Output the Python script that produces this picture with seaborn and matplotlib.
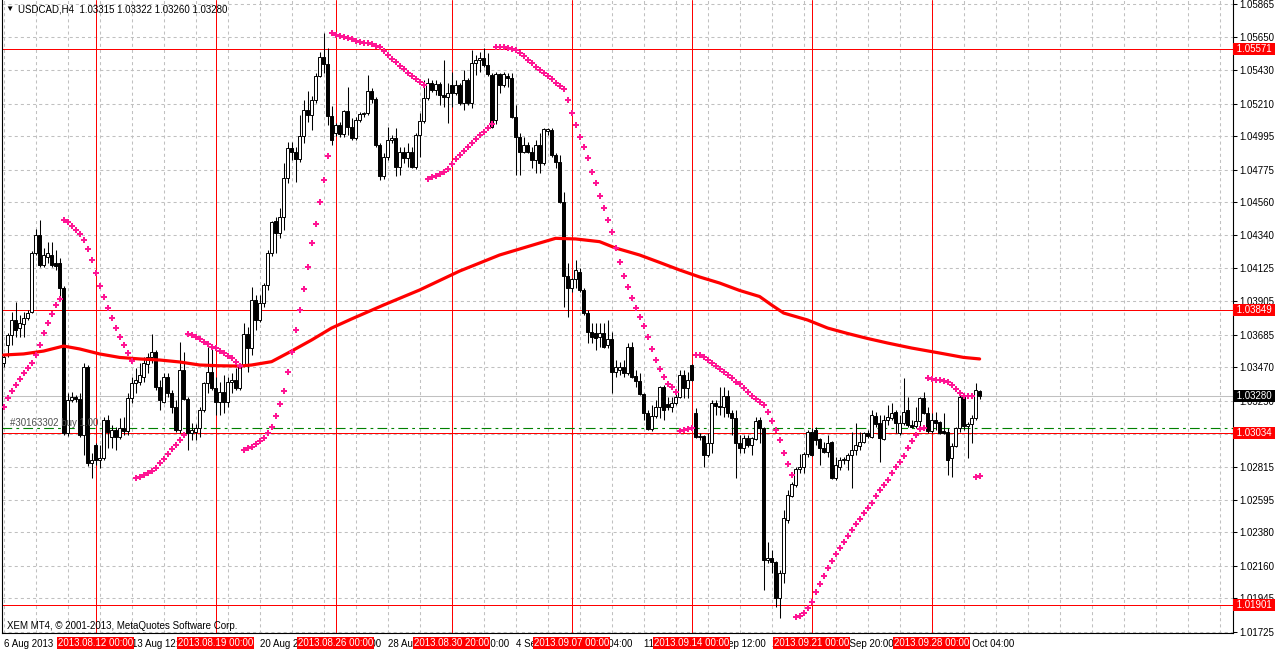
import numpy as np
import matplotlib
matplotlib.use("Agg")
import matplotlib.pyplot as plt
import matplotlib.transforms as mtransforms
import seaborn as sns

# ---------------- data (USDCAD H4) ----------------
opens = [
    1.03498, 1.03617, 1.03683, 1.03782, 1.03729, 1.03756, 1.03795, 1.03835, 1.04224, 1.04343,
    1.04145, 1.04198, 1.04211, 1.04158, 1.04158, 1.03993, 1.03036, 1.03254, 1.03274, 1.03261,
    1.03023, 1.03472, 1.02838, 1.02957, 1.02858, 1.02871, 1.03122, 1.03010, 1.03056, 1.03010,
    1.03069, 1.03049, 1.03267, 1.03366, 1.03373, 1.03406, 1.03492, 1.03538, 1.03571, 1.03340,
    1.03241, 1.03406, 1.03300, 1.03208, 1.03056, 1.03452, 1.03261, 1.03036, 1.03043, 1.03069,
    1.03188, 1.03366, 1.03439, 1.03333, 1.03241, 1.03307, 1.03241, 1.03373, 1.03386, 1.03333,
    1.03485, 1.03690, 1.03597, 1.03914, 1.03782, 1.03894, 1.04013, 1.04224, 1.04435, 1.04356,
    1.04462, 1.04719, 1.04917, 1.04891, 1.04845, 1.04996, 1.05168, 1.05135, 1.05234, 1.05392,
    1.05518, 1.05472, 1.05128, 1.05016, 1.05069, 1.05010, 1.05161, 1.05056, 1.04983, 1.05102,
    1.05142, 1.05148, 1.05293, 1.05241, 1.04937, 1.04732, 1.04858, 1.04970, 1.04983, 1.04792,
    1.04891, 1.04851, 1.04891, 1.04792, 1.05003, 1.05095, 1.05247, 1.05346, 1.05300, 1.05340,
    1.05267, 1.05254, 1.05333, 1.05280, 1.05333, 1.05214, 1.05366, 1.05214, 1.05478, 1.05498,
    1.05511, 1.05465, 1.05399, 1.05102, 1.05406, 1.05333, 1.05392, 1.05379, 1.05122, 1.04990,
    1.04891, 1.04937, 1.04891, 1.04838, 1.04937, 1.04818, 1.05029, 1.05036, 1.04871, 1.04825,
    1.04561, 1.04072, 1.03993, 1.04053, 1.04099, 1.03980, 1.03828, 1.03703, 1.03696, 1.03670,
    1.03696, 1.03617, 1.03657, 1.03439, 1.03452, 1.03472, 1.03432, 1.03604, 1.03412, 1.03379,
    1.03294, 1.03168, 1.03063, 1.03148, 1.03208, 1.03340, 1.03228, 1.03208, 1.03234, 1.03274,
    1.03419, 1.03333, 1.03485, 1.03168, 1.03010, 1.03016, 1.02891, 1.02970, 1.03234, 1.03214,
    1.03208, 1.03280, 1.03168, 1.03135, 1.02970, 1.02937, 1.03003, 1.02957, 1.02997, 1.03122,
    1.03069, 1.02198, 1.02211, 1.02185, 1.01947, 1.02112, 1.02462, 1.02620, 1.02693, 1.02799,
    1.02812, 1.02898, 1.03043, 1.03056, 1.02997, 1.02937, 1.02911, 1.02977, 1.02739, 1.02812,
    1.02858, 1.02858, 1.02891, 1.02924, 1.02950, 1.02977, 1.03036, 1.03010, 1.03148, 1.03102,
    1.02997, 1.03122, 1.03135, 1.03175, 1.03036, 1.03102, 1.03188, 1.03089, 1.03082, 1.03115,
    1.03267, 1.03168, 1.03049, 1.03122, 1.03109, 1.03049, 1.03043, 1.02871, 1.02950, 1.03069,
    1.03274, 1.03082, 1.03096, 1.03135, 1.03315,
]
highs = [
    1.03551, 1.03696, 1.03835, 1.03901, 1.03815, 1.03835, 1.03848, 1.04237, 1.04383, 1.04442,
    1.04257, 1.04297, 1.04297, 1.04244, 1.04191, 1.04006, 1.03300, 1.03307, 1.03287, 1.03300,
    1.03498, 1.03485, 1.02904, 1.02970, 1.02957, 1.03142, 1.03155, 1.03089, 1.03076, 1.03135,
    1.03142, 1.03300, 1.03406, 1.03465, 1.03498, 1.03538, 1.03564, 1.03690, 1.03584, 1.03386,
    1.03432, 1.03432, 1.03320, 1.03254, 1.03637, 1.03571, 1.03274, 1.03102, 1.03096, 1.03208,
    1.03373, 1.03604, 1.03597, 1.03406, 1.03373, 1.03419, 1.03406, 1.03432, 1.03465, 1.03498,
    1.03762, 1.03736, 1.04000, 1.03947, 1.03947, 1.04026, 1.04244, 1.04435, 1.04462, 1.04521,
    1.04818, 1.04957, 1.04957, 1.04924, 1.05135, 1.05234, 1.05293, 1.05260, 1.05412, 1.05551,
    1.05676, 1.05577, 1.05194, 1.05082, 1.05089, 1.05168, 1.05320, 1.05115, 1.05122, 1.05155,
    1.05155, 1.05399, 1.05313, 1.05254, 1.04950, 1.04884, 1.05056, 1.05003, 1.05049, 1.04924,
    1.04924, 1.04950, 1.04924, 1.05016, 1.05148, 1.05366, 1.05379, 1.05366, 1.05366, 1.05353,
    1.05498, 1.05346, 1.05419, 1.05366, 1.05346, 1.05432, 1.05379, 1.05564, 1.05531, 1.05551,
    1.05577, 1.05544, 1.05412, 1.05419, 1.05412, 1.05419, 1.05412, 1.05412, 1.05201, 1.05016,
    1.04990, 1.04957, 1.04924, 1.04970, 1.05016, 1.05049, 1.05049, 1.05049, 1.04884, 1.04871,
    1.04627, 1.04158, 1.04059, 1.04178, 1.04125, 1.03993, 1.03848, 1.03762, 1.03762, 1.03762,
    1.03762, 1.03782, 1.03703, 1.03518, 1.03505, 1.03518, 1.03630, 1.03637, 1.03452, 1.03432,
    1.03300, 1.03188, 1.03221, 1.03254, 1.03346, 1.03353, 1.03274, 1.03274, 1.03320, 1.03452,
    1.03452, 1.03439, 1.03492, 1.03201, 1.03036, 1.03023, 1.03036, 1.03254, 1.03254, 1.03340,
    1.03340, 1.03320, 1.03188, 1.03188, 1.03023, 1.03023, 1.03023, 1.03010, 1.03142, 1.03142,
    1.03076, 1.02317, 1.02264, 1.02191, 1.02132, 1.02528, 1.02660, 1.02713, 1.02812, 1.02898,
    1.02911, 1.03056, 1.03069, 1.03076, 1.03003, 1.02977, 1.03023, 1.02983, 1.02878, 1.02878,
    1.02878, 1.02904, 1.03043, 1.03102, 1.03043, 1.03043, 1.03056, 1.03188, 1.03175, 1.03155,
    1.03155, 1.03221, 1.03234, 1.03188, 1.03155, 1.03399, 1.03274, 1.03122, 1.03208, 1.03274,
    1.03307, 1.03208, 1.03168, 1.03175, 1.03115, 1.03168, 1.03069, 1.02970, 1.03076, 1.03287,
    1.03280, 1.03109, 1.03155, 1.03366, 1.03322,
]
lows = [
    1.03472, 1.03538, 1.03617, 1.03670, 1.03670, 1.03670, 1.03782, 1.03828, 1.04211, 1.04132,
    1.04132, 1.04158, 1.04132, 1.04112, 1.03914, 1.03023, 1.03016, 1.03241, 1.03241, 1.03010,
    1.02891, 1.02818, 1.02739, 1.02825, 1.02805, 1.02858, 1.02937, 1.02937, 1.02924, 1.02997,
    1.03023, 1.03023, 1.03234, 1.03300, 1.03353, 1.03373, 1.03432, 1.03498, 1.03320, 1.03188,
    1.03234, 1.03274, 1.03168, 1.03043, 1.03036, 1.03254, 1.02924, 1.02990, 1.02990, 1.03010,
    1.03175, 1.03300, 1.03320, 1.03155, 1.03155, 1.03168, 1.03208, 1.03300, 1.03320, 1.03320,
    1.03472, 1.03439, 1.03551, 1.03716, 1.03769, 1.03868, 1.03980, 1.04204, 1.04224, 1.04323,
    1.04376, 1.04686, 1.04838, 1.04693, 1.04825, 1.04950, 1.05089, 1.05036, 1.05214, 1.05386,
    1.05412, 1.05069, 1.04937, 1.04996, 1.04990, 1.04990, 1.05003, 1.04970, 1.04970, 1.05089,
    1.05122, 1.05135, 1.05214, 1.04924, 1.04706, 1.04713, 1.04838, 1.04950, 1.04732, 1.04739,
    1.04818, 1.04792, 1.04785, 1.04779, 1.04858, 1.05082, 1.05234, 1.05287, 1.05267, 1.05201,
    1.05188, 1.05082, 1.05188, 1.05267, 1.05201, 1.05168, 1.05201, 1.05181, 1.05399, 1.05419,
    1.05452, 1.05392, 1.05049, 1.05076, 1.05280, 1.05320, 1.05320, 1.05115, 1.04739, 1.04739,
    1.04884, 1.04884, 1.04785, 1.04752, 1.04752, 1.04805, 1.05003, 1.04858, 1.04785, 1.04554,
    1.03868, 1.03802, 1.03967, 1.03993, 1.03967, 1.03815, 1.03630, 1.03630, 1.03584, 1.03604,
    1.03597, 1.03597, 1.03300, 1.03406, 1.03419, 1.03406, 1.03419, 1.03399, 1.03340, 1.03287,
    1.03122, 1.03056, 1.03049, 1.03135, 1.03135, 1.03122, 1.03188, 1.03175, 1.03221, 1.03267,
    1.03267, 1.03267, 1.03379, 1.03003, 1.02990, 1.02812, 1.02878, 1.02904, 1.03155, 1.03155,
    1.03142, 1.03142, 1.03023, 1.02739, 1.02904, 1.02904, 1.02944, 1.02891, 1.02990, 1.02970,
    1.02000, 1.02178, 1.02112, 1.01888, 1.01815, 1.02046, 1.02442, 1.02614, 1.02680, 1.02772,
    1.02772, 1.02878, 1.02884, 1.02957, 1.02825, 1.02904, 1.02878, 1.02733, 1.02726, 1.02792,
    1.02832, 1.02792, 1.02673, 1.02891, 1.02924, 1.02970, 1.03003, 1.03003, 1.03076, 1.02845,
    1.02990, 1.03089, 1.03122, 1.03036, 1.03023, 1.03089, 1.03076, 1.03069, 1.03069, 1.03056,
    1.03162, 1.03036, 1.03036, 1.03056, 1.03030, 1.03030, 1.02759, 1.02746, 1.02944, 1.03043,
    1.03056, 1.02871, 1.02970, 1.03122, 1.03260,
]
closes = [
    1.03538, 1.03683, 1.03782, 1.03716, 1.03762, 1.03795, 1.03828, 1.04224, 1.04343, 1.04145,
    1.04211, 1.04224, 1.04145, 1.04138, 1.03993, 1.03036, 1.03254, 1.03274, 1.03261, 1.03023,
    1.03472, 1.02838, 1.02858, 1.02858, 1.02871, 1.03122, 1.03043, 1.03056, 1.03010, 1.03069,
    1.03049, 1.03267, 1.03366, 1.03386, 1.03419, 1.03498, 1.03538, 1.03571, 1.03340, 1.03254,
    1.03406, 1.03300, 1.03208, 1.03056, 1.03452, 1.03261, 1.03036, 1.03056, 1.03069, 1.03188,
    1.03366, 1.03439, 1.03333, 1.03241, 1.03307, 1.03241, 1.03373, 1.03386, 1.03333, 1.03485,
    1.03690, 1.03597, 1.03914, 1.03782, 1.03894, 1.04013, 1.04224, 1.04429, 1.04356, 1.04462,
    1.04719, 1.04917, 1.04891, 1.04845, 1.04996, 1.05168, 1.05135, 1.05234, 1.05392, 1.05518,
    1.05472, 1.05128, 1.04970, 1.05069, 1.05010, 1.05161, 1.05056, 1.04983, 1.05102, 1.05142,
    1.05148, 1.05293, 1.05241, 1.04937, 1.04732, 1.04858, 1.04970, 1.04983, 1.04792, 1.04891,
    1.04851, 1.04891, 1.04792, 1.05003, 1.05095, 1.05247, 1.05346, 1.05300, 1.05340, 1.05267,
    1.05254, 1.05280, 1.05280, 1.05333, 1.05214, 1.05366, 1.05214, 1.05478, 1.05498, 1.05511,
    1.05465, 1.05406, 1.05056, 1.05406, 1.05333, 1.05406, 1.05379, 1.05122, 1.04990, 1.04891,
    1.04937, 1.04891, 1.04838, 1.04937, 1.04818, 1.05043, 1.05043, 1.04871, 1.04825, 1.04561,
    1.04072, 1.03993, 1.04053, 1.04112, 1.03980, 1.03828, 1.03703, 1.03670, 1.03663, 1.03696,
    1.03604, 1.03657, 1.03439, 1.03472, 1.03472, 1.03432, 1.03604, 1.03406, 1.03379, 1.03294,
    1.03168, 1.03063, 1.03148, 1.03208, 1.03340, 1.03188, 1.03208, 1.03234, 1.03274, 1.03419,
    1.03333, 1.03386, 1.03386, 1.03010, 1.03016, 1.02891, 1.02970, 1.03234, 1.03214, 1.03208,
    1.03280, 1.03168, 1.03135, 1.02970, 1.02937, 1.03003, 1.02957, 1.03003, 1.03115, 1.03069,
    1.02198, 1.02211, 1.02185, 1.01947, 1.02112, 1.02475, 1.02627, 1.02700, 1.02799, 1.02812,
    1.02898, 1.03043, 1.02891, 1.02990, 1.02937, 1.02911, 1.02970, 1.02739, 1.02825, 1.02858,
    1.02865, 1.02891, 1.02924, 1.02957, 1.02977, 1.03036, 1.03016, 1.03155, 1.03096, 1.03003,
    1.03122, 1.03142, 1.03168, 1.03102, 1.03102, 1.03175, 1.03089, 1.03076, 1.03115, 1.03267,
    1.03168, 1.03049, 1.03122, 1.03102, 1.03036, 1.03036, 1.02858, 1.02950, 1.03069, 1.03274,
    1.03082, 1.03096, 1.03135, 1.03320, 1.03280,
]
# Parabolic SAR dots
sar = [
    1.03210, 1.03265, 1.03315, 1.03353, 1.03391, 1.03430, 1.03463, 1.03496, 1.03551, 1.03615,
    1.03694, 1.03760, 1.03820, 1.03879, 1.03923, 1.04442, 1.04429, 1.04402, 1.04376, 1.04348,
    1.04308, 1.04249, 1.04176, 1.04090, 1.04004, 1.03932, 1.03859, 1.03793, 1.03729, 1.03670,
    1.03615, 1.03562, 1.03511, 1.02739, 1.02748, 1.02757, 1.02770, 1.02787, 1.02803, 1.02836,
    1.02863, 1.02896, 1.02929, 1.02957, 1.02990, 1.03021, 1.03690, 1.03683, 1.03672, 1.03657,
    1.03639, 1.03624, 1.03606, 1.03595, 1.03579, 1.03562, 1.03544, 1.03529, 1.03507, 1.03480,
    1.02924, 1.02935, 1.02946, 1.02964, 1.02985, 1.03005, 1.03036, 1.03078, 1.03148, 1.03228,
    1.03315, 1.03437, 1.03573, 1.03716, 1.03848, 1.03985, 1.04135, 1.04288, 1.04414, 1.04558,
    1.04706, 1.04864, 1.05674, 1.05663, 1.05656, 1.05648, 1.05641, 1.05635, 1.05625, 1.05619,
    1.05612, 1.05608, 1.05602, 1.05592, 1.05582, 1.05557, 1.05531, 1.05503, 1.05483, 1.05458,
    1.05437, 1.05414, 1.05392, 1.05371, 1.05353, 1.05331, 1.04711, 1.04724, 1.04734, 1.04746,
    1.04761, 1.04779, 1.04810, 1.04845, 1.04871, 1.04897, 1.04924, 1.04950, 1.04977, 1.05003,
    1.05023, 1.05049, 1.05076, 1.05582, 1.05586, 1.05582, 1.05575, 1.05569, 1.05564, 1.05542,
    1.05524, 1.05498, 1.05476, 1.05450, 1.05432, 1.05410, 1.05392, 1.05371, 1.05348, 1.05328,
    1.05305, 1.05234, 1.05146, 1.05067, 1.04988, 1.04922, 1.04849, 1.04761, 1.04684, 1.04598,
    1.04519, 1.04442, 1.04361, 1.04255, 1.04163, 1.04072, 1.04000, 1.03927, 1.03859, 1.03805,
    1.03742, 1.03667, 1.03589, 1.03517, 1.03457, 1.03404, 1.03358, 1.03342, 1.03305, 1.03049,
    1.03059, 1.03063, 1.03069, 1.03551, 1.03550, 1.03536, 1.03517, 1.03496, 1.03477, 1.03457,
    1.03437, 1.03419, 1.03397, 1.03375, 1.03358, 1.03331, 1.03305, 1.03280, 1.03261, 1.03239,
    1.03219, 1.03173, 1.03113, 1.03056, 1.02990, 1.02902, 1.02830, 1.02757, 1.01820, 1.01830,
    1.01846, 1.01879, 1.01923, 1.01985, 1.02038, 1.02090, 1.02143, 1.02191, 1.02236, 1.02275,
    1.02315, 1.02354, 1.02396, 1.02434, 1.02469, 1.02506, 1.02539, 1.02572, 1.02622, 1.02658,
    1.02691, 1.02724, 1.02770, 1.02812, 1.02843, 1.02882, 1.02935, 1.02983, 1.03023, 1.03061,
    1.03071, 1.03397, 1.03393, 1.03386, 1.03384, 1.03379, 1.03375, 1.03353, 1.03325, 1.03302,
    1.03280, 1.03278, 1.03278, 1.02748, 1.02752,
]
# moving average (read at sample bars)
ma_idx = [0, 5, 10, 15, 19, 24, 29, 34, 39, 44, 49, 54, 59, 62, 67, 72, 77, 82, 87, 95,
          104, 114, 124, 134, 138, 143, 149, 153, 159, 164, 169, 174, 179, 184, 189, 192,
          195, 201, 206, 211, 216, 221, 227, 234, 240, 244]
ma_vals = [1.03551, 1.03558, 1.03577, 1.03610, 1.03591, 1.03558, 1.03535, 1.03525, 1.03518,
           1.03505, 1.03485, 1.03480, 1.03478, 1.03485, 1.03507, 1.03577, 1.03650, 1.03729,
           1.03789, 1.03881, 1.03980, 1.04105, 1.04211, 1.04290, 1.04321, 1.04317, 1.04299,
           1.04257, 1.04211, 1.04162, 1.04112, 1.04066, 1.04026, 1.03977, 1.03937, 1.03881,
           1.03828, 1.03782, 1.03729, 1.03693, 1.03660, 1.03630, 1.03597, 1.03564, 1.03535,
           1.03525]

price_ticks = [1.05865, 1.05650, 1.05430, 1.05210, 1.04995, 1.04775, 1.04560, 1.04340,
               1.04125, 1.03905, 1.03685, 1.03470, 1.03250, 1.03030, 1.02815, 1.02595,
               1.02380, 1.02160, 1.01945, 1.01725]
time_tick_idx = list(range(0, 241, 16))
time_tick_labels = ["6 Aug 2013", "8 Aug 20:00", "13 Aug 12:00", "16 Aug 04:00",
                    "20 Aug 20:00", "23 Aug 12:00", "28 Aug 04:00", "30 Aug 20:00",
                    "4 Sep 12:00", "9 Sep 04:00", "11 Sep 20:00", "16 Sep 12:00",
                    "19 Sep 04:00", "23 Sep 20:00", "26 Sep 12:00", "1 Oct 04:00"]
vline_idx = [23, 53, 83, 112, 142, 172, 202, 232]
vline_labels = ["2013.08.12 00:00", "2013.08.19 00:00", "2013.08.26 00:00",
                "2013.08.30 20:00", "2013.09.07 00:00", "2013.09.14 00:00",
                "2013.09.21 00:00", "2013.09.28 00:00"]
hline_prices = [1.05571, 1.03849, 1.03034, 1.01901]
order_price = 1.03067
bid_price = 1.03280

# ---------------- drawing ----------------
sns.set_style("white")
plt.rcParams['font.family'] = ['Liberation Sans', 'DejaVu Sans']
plt.rcParams['lines.scale_dashes'] = False

n = min(len(opens), len(highs), len(lows), len(closes), len(sar))
o = np.array(opens[:n]); h = np.array(highs[:n]); l = np.array(lows[:n]); c = np.array(closes[:n])
idx = np.arange(n)

fig = plt.figure(figsize=(12.76, 6.52), dpi=100)
ax = fig.add_axes([2 / 1276, 19 / 652, 1231 / 1276, 633 / 652])
ax.set_facecolor('white')

grid_kw = dict(color='#c0c0c0', lw=0.75, ls=(0, (2.2, 2.2)), zorder=0)
for p in price_ticks:
    ax.axhline(p, **grid_kw)
for k in range(0, 312, 8):
    ax.axvline(k, **grid_kw)

ax.axhline(bid_price, color='#c0c0c0', lw=0.75, zorder=1)
for p in hline_prices:
    ax.axhline(p, color='#ff0000', lw=0.72, zorder=2)
for v in vline_idx:
    ax.axvline(v, color='#ff0000', lw=0.72, zorder=2)
ax.axhline(order_price, color='#008000', lw=0.8, ls=(0, (7, 3, 2, 3)), zorder=2)

# candles
ax.vlines(idx, l, h, color='black', lw=0.75, zorder=3)
bull = c >= o
body = c - o
body = np.where(np.abs(body) < 1e-6, 1e-6, body)
ax.bar(idx, body, bottom=o, width=0.72,
       color=np.where(bull, 'white', 'black'), edgecolor='black', linewidth=0.7, zorder=4)

# moving average and parabolic SAR with seaborn
sns.lineplot(x=ma_idx, y=ma_vals, ax=ax, color='#ff0000', linewidth=2.3,
             estimator=None, zorder=5)
sns.scatterplot(x=idx, y=sar[:n], ax=ax, marker='P', s=13, color='#ff1493',
                linewidth=0, zorder=6, legend=False)

ax.set_xlim(-0.4, 307.35)
ax.set_ylim(1.05894 - 633 * 0.000066, 1.05894)
ax.set_xlabel('')
ax.set_ylabel('')

for s in ['left', 'right', 'bottom']:
    ax.spines[s].set_color('black')
    ax.spines[s].set_linewidth(0.8)
ax.spines['top'].set_visible(False)

ax.yaxis.tick_right()
ax.set_yticks(price_ticks)
ax.set_yticklabels([f"{p:.5f}" for p in price_ticks])
ax.tick_params(axis='y', direction='out', length=3, width=0.75, pad=1.5,
               labelsize=7, colors='black', right=True, left=False)
ax.set_xticks(time_tick_idx)
ax.set_xticklabels(time_tick_labels)
ax.tick_params(axis='x', direction='out', length=3, width=0.75, pad=1.5,
               labelsize=7, colors='black')
for t in ax.get_xticklabels():
    t.set_horizontalalignment('left')

tr_x = mtransforms.blended_transform_factory(ax.transData, ax.transAxes)
tr_y = mtransforms.blended_transform_factory(ax.transAxes, ax.transData)

for v, lab in zip(vline_idx, vline_labels):
    ax.text(v, -10 / 633, lab, transform=tr_x, ha='center', va='center', fontsize=7,
            color='white', zorder=10, clip_on=False,
            bbox=dict(boxstyle='square,pad=0.12', fc='#ff0000', ec='none'))

for p in hline_prices:
    ax.text(1232 / 1231, p, f" {p:.5f} ", transform=tr_y, ha='left',
            va='center', fontsize=7, color='white', zorder=10, clip_on=False,
            bbox=dict(boxstyle='square,pad=0.1', fc='#ff0000', ec='none'))
ax.text(1232 / 1231, bid_price, f" {bid_price:.5f} ", transform=tr_y, ha='left',
        va='center', fontsize=7, color='white', zorder=10, clip_on=False,
        bbox=dict(boxstyle='square,pad=0.1', fc='black', ec='none'))

fig.text(5 / 1276, 1 - 9 / 652, '\u25bc', fontsize=6, va='center', color='black')
fig.text(18 / 1276, 1 - 9 / 652, 'USDCAD,H4  1.03315 1.03322 1.03260 1.03280',
         fontsize=7, va='center', color='black')
fig.text(10 / 1276, 1 - 423 / 652, '#30163302 buy 1.00', fontsize=7, va='center',
         color='#505050')
fig.text(7 / 1276, 1 - 626 / 652, 'XEM MT4, \u00a9 2001-2013, MetaQuotes Software Corp.',
         fontsize=7, va='center', color='black')

fig.savefig('out.png', dpi=100, facecolor='white')
